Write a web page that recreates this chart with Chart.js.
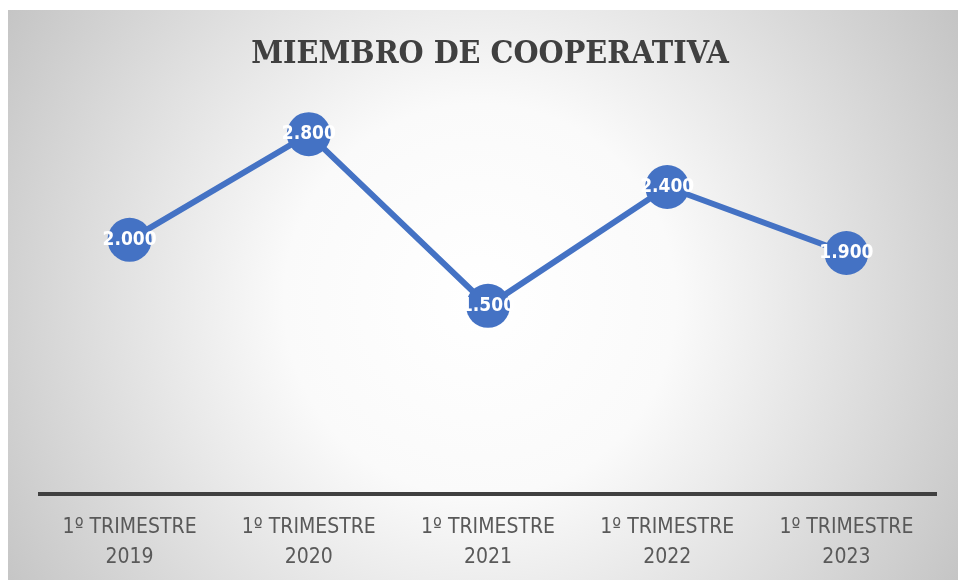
<!DOCTYPE html>
<html>
<head>
<meta charset="utf-8">
<script src="https://cdn.jsdelivr.net/npm/chart.js@4.4.0/dist/chart.umd.min.js"></script>
<style>
  html, body { margin: 0; padding: 0; background: #fff; }
  #wrap { width: 958px; height: 580px; position: relative; }
</style>
</head>
<body>
<div id="wrap"><canvas id="chart"></canvas></div>
<script>
// Chart data
const categories = [
    ['1º TRIMESTRE', '2019'],
    ['1º TRIMESTRE', '2020'],
    ['1º TRIMESTRE', '2021'],
    ['1º TRIMESTRE', '2022'],
    ['1º TRIMESTRE', '2023']
];
const members = [2000, 2800, 1500, 2400, 1900];
const valueLabels = ['2.000', '2.800', '1.500', '2.400', '1.900'];

const lineBlue = '#4472C4';

// radial grey background like the original chart box
const backgroundPlugin = {
    id: 'boxBackground',
    beforeDraw(chart) {
        const ctx = chart.ctx;
        ctx.save();
        ctx.fillStyle = '#ffffff';
        ctx.fillRect(0, 0, chart.width, chart.height);
        const grad = ctx.createRadialGradient(480, 300, 0, 480, 300, 560);
        grad.addColorStop(0, '#ffffff');
        grad.addColorStop(0.35, '#fafafa');
        grad.addColorStop(1, '#c4c4c4');
        ctx.fillStyle = grad;
        ctx.fillRect(8, 10, chart.width - 8, chart.height - 10);
        ctx.restore();
    }
};

// white value labels centred on each marker
const valueLabelPlugin = {
    id: 'valueLabels',
    afterDatasetsDraw(chart) {
        const ctx = chart.ctx;
        const meta = chart.getDatasetMeta(0);
        ctx.save();
        ctx.fillStyle = '#ffffff';
        ctx.font = 'bold 19px "DejaVu Sans Condensed", sans-serif';
        ctx.textAlign = 'center';
        ctx.textBaseline = 'middle';
        meta.data.forEach((pt, i) => {
            ctx.fillText(valueLabels[i], pt.x, pt.y);
        });
        ctx.restore();
    }
};

new Chart(document.getElementById('chart'), {
    type: 'line',
    data: {
        labels: categories,
        datasets: [{
            data: members,
            borderColor: lineBlue,
            borderWidth: 6,
            backgroundColor: lineBlue,
            pointBackgroundColor: lineBlue,
            pointBorderWidth: 0,
            pointRadius: 22,
            pointHoverRadius: 22,
            tension: 0,
            clip: false
        }]
    },
    options: {
        responsive: true,
        maintainAspectRatio: false,
        animation: false,
        layout: { padding: { left: 40, right: 18, top: 0, bottom: 10 } },
        plugins: {
            legend: { display: false },
            tooltip: { enabled: false },
            title: {
                display: true,
                text: 'MIEMBRO DE COOPERATIVA',
                color: '#404040',
                font: { family: '"DejaVu Serif Condensed", "DejaVu Serif", serif', size: 32, weight: 'bold' },
                padding: { top: 35, bottom: 25 }
            }
        },
        scales: {
            x: {
                offset: true,
                grid: { display: false, drawTicks: false },
                border: { display: true, color: '#404040', width: 4 },
                ticks: {
                    color: '#595959',
                    padding: 18,
                    maxRotation: 0,
                    font: { family: '"DejaVu Sans Condensed", sans-serif', size: 21, lineHeight: 1.45 }
                },
                afterFit(scale) {
                    scale.height = 76;
                }
            },
            y: {
                display: false,
                min: 75,
                max: 3071
            }
        }
    },
    plugins: [backgroundPlugin, valueLabelPlugin]
});
</script>
</body>
</html>
